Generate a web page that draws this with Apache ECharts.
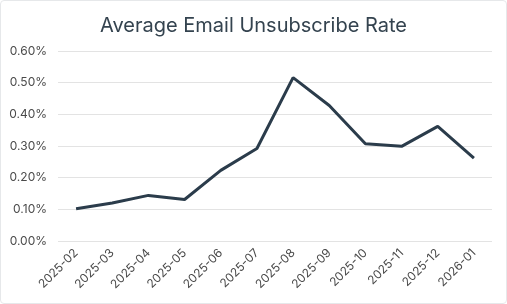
<!DOCTYPE html>
<html>
<head>
<meta charset="utf-8">
<script src="https://cdn.jsdelivr.net/npm/echarts@6/dist/echarts.min.js"></script>
<style>
  html, body { margin: 0; padding: 0; background: #fff; }
  #chart { width: 505px; height: 302px; border: 1px solid #e6e8ea; border-radius: 4px; }
</style>
</head>
<body>
<div id="chart"></div>
<script>
const months = ['2025-02', '2025-03', '2025-04', '2025-05', '2025-06', '2025-07',
  '2025-08', '2025-09', '2025-10', '2025-11', '2025-12', '2026-01']
const rates = [0.102, 0.120, 0.144, 0.131, 0.223, 0.292, 0.516, 0.428, 0.307, 0.299, 0.362, 0.262]

const font = 'Inter, "Open Sans", sans-serif'
const chart = echarts.init(document.getElementById('chart'))

chart.setOption({
  animation: false,
  title: {
    text: 'Average Email Unsubscribe Rate',
    left: 'center',
    top: 10,
    textStyle: {
      fontFamily: font,
      fontWeight: 'normal',
      fontSize: 20,
      color: '#34434f'
    }
  },
  grid: { left: 57, right: 14, top: 50, bottom: 62 },
  xAxis: {
    type: 'category',
    data: months,
    boundaryGap: true,
    axisLine: { show: false },
    axisTick: { show: false },
    axisLabel: {
      rotate: 45,
      interval: 0,
      margin: 10,
      fontFamily: font,
      fontSize: 12,
      color: '#4a4a4a'
    }
  },
  yAxis: {
    type: 'value',
    min: 0,
    max: 0.6,
    interval: 0.1,
    axisLabel: {
      fontFamily: font,
      fontSize: 12,
      color: '#4a4a4a',
      margin: 11,
      formatter: v => v.toFixed(2) + '%'
    },
    splitLine: { lineStyle: { color: '#e3e3e3', width: 1 } }
  },
  series: [{
    type: 'line',
    data: rates,
    symbol: 'none',
    lineStyle: { color: '#2b3c4b', width: 3 }
  }]
})
</script>
</body>
</html>
